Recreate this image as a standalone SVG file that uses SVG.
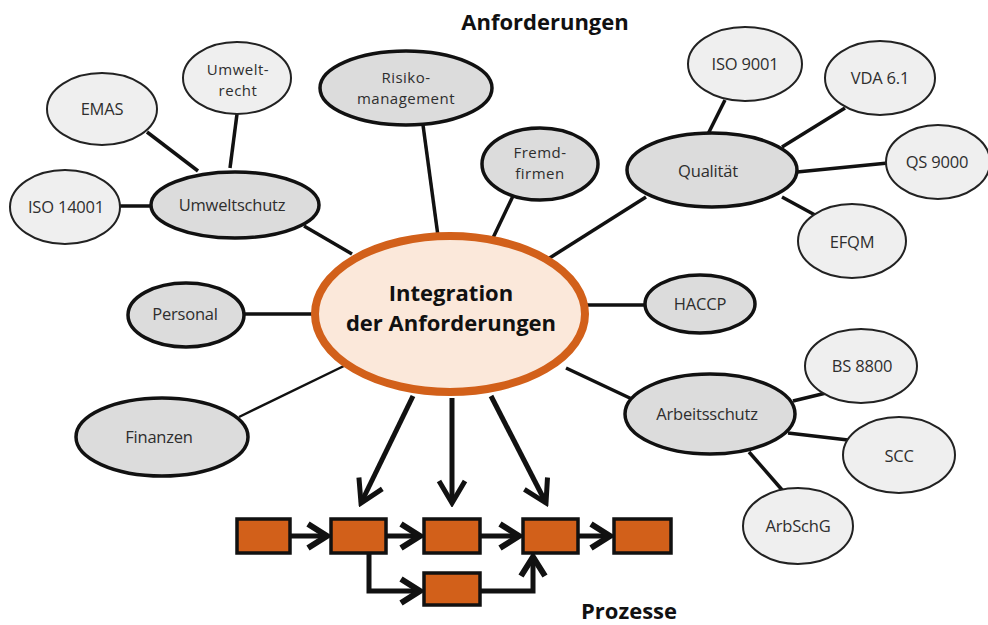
<svg xmlns="http://www.w3.org/2000/svg" width="988" height="625" viewBox="0 0 988 625">
  <style>
    .bg { fill: #ffffff; }
    .main ellipse { fill: #dcdcdc; stroke: #111; stroke-width: 3.5; }
    .leaf ellipse { fill: #efefef; stroke: #222; stroke-width: 2; }
    .lbl { font-family: "Open Sans", "Liberation Sans", sans-serif; font-size: 16.5px; fill: #2e2e2e; text-anchor: middle; letter-spacing: -0.2px; }
    .lbl2 { font-size: 15px; letter-spacing: 0.5px; }
    .title { font-family: "Open Sans", "Liberation Sans", sans-serif; font-weight: bold; font-size: 22px; fill: #111; text-anchor: middle; }
    .center ellipse { fill: #fbe8da; stroke: #d2601a; stroke-width: 8; }
    .center text { font-family: "Open Sans", "Liberation Sans", sans-serif; font-weight: bold; font-size: 22px; fill: #111; text-anchor: middle; }
    .links line { stroke: #111; stroke-width: 3.5; }
    .box { fill: #d2601a; stroke: #111; stroke-width: 3.5; }
    .flow { fill: none; stroke: #111; stroke-width: 5; stroke-linejoin: miter; }
    .big { fill: none; stroke: #111; stroke-width: 5; }
  </style>
  <defs>
    <marker id="chev" markerUnits="userSpaceOnUse" viewBox="-24 -17 28 34" refX="0" refY="0" markerWidth="28" markerHeight="34" orient="auto">
      <path d="M-19,-12 L0,0 L-19,12" fill="none" stroke="#111" stroke-width="6"/>
    </marker>
    <marker id="chevBig" markerUnits="userSpaceOnUse" viewBox="-26 -16 30 32" refX="0" refY="0" markerWidth="30" markerHeight="32" orient="auto">
      <path d="M-22,-13 L0,0 L-22,13" fill="none" stroke="#111" stroke-width="5"/>
    </marker>
  </defs>
  <rect class="bg" x="0" y="0" width="988" height="625"/>

  <text class="title" x="545" y="30">Anforderungen</text>
  <text class="title" x="629" y="619">Prozesse</text>

  <!-- spokes between topic ellipses -->
  <g id="connectors" class="links">
    <line x1="120" y1="206" x2="152" y2="206"/>
    <line x1="147" y1="132" x2="198" y2="171"/>
    <line x1="237" y1="114" x2="230" y2="168"/>
    <line x1="304" y1="226" x2="352" y2="254"/>
    <line x1="423" y1="125" x2="438" y2="236"/>
    <line x1="513" y1="196" x2="492" y2="240"/>
    <line x1="646" y1="197" x2="548" y2="259"/>
    <line x1="725" y1="100" x2="708" y2="134"/>
    <line x1="845" y1="108" x2="782" y2="147"/>
    <line x1="888" y1="163" x2="797" y2="172"/>
    <line x1="782" y1="197" x2="815" y2="215"/>
    <line x1="585" y1="305" x2="646" y2="305"/>
    <line x1="243" y1="314" x2="316" y2="314"/>
    <line x1="239" y1="417" x2="348" y2="364" style="stroke-width:2.5"/>
    <line x1="566" y1="368" x2="634" y2="400"/>
    <line x1="793" y1="401" x2="826" y2="393"/>
    <line x1="788" y1="433" x2="848" y2="440"/>
    <line x1="749" y1="452" x2="783" y2="491"/>
  </g>

  <!-- topic ellipses -->
  <g id="umweltschutz" class="main"><ellipse cx="235" cy="205" rx="84" ry="33"/><text class="lbl" x="232" y="211">Umweltschutz</text></g>
  <g id="iso14001" class="leaf"><ellipse cx="65" cy="207" rx="55" ry="37"/><text class="lbl" x="66" y="213">ISO 14001</text></g>
  <g id="emas" class="leaf"><ellipse cx="102" cy="109" rx="55" ry="36"/><text class="lbl" x="102" y="115">EMAS</text></g>
  <g id="umweltrecht" class="leaf"><ellipse cx="237" cy="78" rx="54" ry="36"/><text class="lbl lbl2" x="238" y="75">Umwelt-</text><text class="lbl lbl2" x="238" y="96">recht</text></g>
  <g id="risikomanagement" class="main"><ellipse cx="406" cy="88" rx="86" ry="37"/><text class="lbl lbl2" x="406" y="83">Risiko-</text><text class="lbl lbl2" x="406" y="104">management</text></g>
  <g id="fremdfirmen" class="main"><ellipse cx="540" cy="164" rx="58" ry="36"/><text class="lbl lbl2" x="540" y="158">Fremd-</text><text class="lbl lbl2" x="540" y="179">firmen</text></g>
  <g id="qualitaet" class="main"><ellipse cx="712" cy="170" rx="85" ry="37"/><text class="lbl" x="708" y="177">Qualität</text></g>
  <g id="iso9001" class="leaf"><ellipse cx="745" cy="64" rx="57" ry="37"/><text class="lbl" x="745" y="70">ISO 9001</text></g>
  <g id="vda61" class="leaf"><ellipse cx="880" cy="78" rx="55" ry="37"/><text class="lbl" x="880" y="84">VDA 6.1</text></g>
  <g id="qs9000" class="leaf"><ellipse cx="938" cy="162" rx="52" ry="37"/><text class="lbl" x="937" y="168">QS 9000</text></g>
  <g id="efqm" class="leaf"><ellipse cx="852" cy="241" rx="54" ry="37"/><text class="lbl" x="852" y="248">EFQM</text></g>
  <g id="haccp" class="main"><ellipse cx="700" cy="304" rx="55" ry="29"/><text class="lbl" x="700" y="310">HACCP</text></g>
  <g id="personal" class="main"><ellipse cx="186" cy="315" rx="58" ry="32"/><text class="lbl" x="185" y="320">Personal</text></g>
  <g id="finanzen" class="main"><ellipse cx="162" cy="437" rx="86" ry="39"/><text class="lbl" x="159" y="443">Finanzen</text></g>
  <g id="arbeitsschutz" class="main"><ellipse cx="710" cy="414" rx="85" ry="40"/><text class="lbl" x="707" y="420">Arbeitsschutz</text></g>
  <g id="bs8800" class="leaf"><ellipse cx="861" cy="366" rx="56" ry="37"/><text class="lbl" x="862" y="372">BS 8800</text></g>
  <g id="scc" class="leaf"><ellipse cx="899" cy="455" rx="56" ry="38"/><text class="lbl" x="899" y="462">SCC</text></g>
  <g id="arbschg" class="leaf"><ellipse cx="798" cy="526" rx="55" ry="38"/><text class="lbl" x="798" y="532">ArbSchG</text></g>

  <!-- central hub -->
  <g id="integration" class="center">
    <ellipse cx="450" cy="314" rx="135" ry="78"/>
    <text x="451" y="301">Integration</text>
    <text x="451" y="331">der Anforderungen</text>
  </g>

  <!-- arrows from the hub down into the process chain -->
  <g id="hub-arrows">
    <line class="big" x1="413" y1="396" x2="361" y2="503" marker-end="url(#chevBig)"/>
    <line class="big" x1="452" y1="398" x2="452" y2="503" marker-end="url(#chevBig)"/>
    <line class="big" x1="491" y1="396" x2="546" y2="503" marker-end="url(#chevBig)"/>
  </g>

  <!-- process chain -->
  <g id="process-flow">
    <line class="flow" x1="290" y1="536" x2="327" y2="536" marker-end="url(#chev)"/>
    <line class="flow" x1="386" y1="536" x2="420" y2="536" marker-end="url(#chev)"/>
    <line class="flow" x1="480" y1="536" x2="519" y2="536" marker-end="url(#chev)"/>
    <line class="flow" x1="578" y1="536" x2="610" y2="536" marker-end="url(#chev)"/>
    <polyline class="flow" points="369,553 369,591 420,591" marker-end="url(#chev)"/>
    <polyline class="flow" points="480,591 533,591 533,557" marker-end="url(#chev)"/>
  </g>
  <g id="p1"><rect class="box" x="237" y="519" width="53" height="34"/></g>
  <g id="p2"><rect class="box" x="331" y="519" width="55" height="34"/></g>
  <g id="p3"><rect class="box" x="424" y="519" width="56" height="34"/></g>
  <g id="p4"><rect class="box" x="523" y="519" width="55" height="34"/></g>
  <g id="p5"><rect class="box" x="614" y="519" width="57" height="34"/></g>
  <g id="p6"><rect class="box" x="424" y="573" width="56" height="32"/></g>
</svg>
